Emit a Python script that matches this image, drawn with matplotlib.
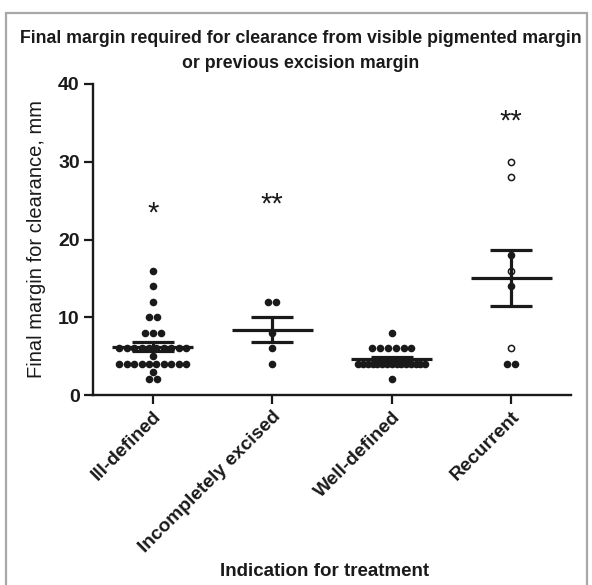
import numpy as np
import matplotlib
matplotlib.use("Agg")
import matplotlib.pyplot as plt
from matplotlib.patches import Rectangle

# ---- data ----
categories = ["Ill-defined", "Incompletely excised", "Well-defined", "Recurrent"]
ill_defined = [16, 14, 12, 10, 10, 8, 8, 8] + [6] * 10 + [5] + [4] * 10 + [3, 2, 2]
incompletely_excised = [12, 12, 8, 6, 4]
well_defined = [8] + [6] * 6 + [4] * 15 + [2]
recurrent = [30, 28, 18, 16, 14, 6, 4, 4]
recurrent_open = [True, True, False, True, False, True, False, False]
series = [ill_defined, incompletely_excised, well_defined, recurrent]
open_flags = [[False] * len(ill_defined), [False] * len(incompletely_excised),
              [False] * len(well_defined), recurrent_open]
star_labels = ["*", "**", "", "**"]
star_y = [23.3, 24.5, 0, 35.2]
y_ticks = [0, 10, 20, 30, 40]

title = "Final margin required for clearance from visible pigmented margin\nor previous excision margin"
ylabel = "Final margin for clearance, mm"
xlabel = "Indication for treatment"

FAM = ["Liberation Sans", "DejaVu Sans"]
plt.rcParams["font.family"] = FAM

fig = plt.figure(figsize=(5.92, 5.85), dpi=100)
W, H = 592, 585
ax = fig.add_axes([93 / W, 1 - 395 / H, (571 - 93) / W, (395 - 84) / H])

# outer gray frame
fig.patches.append(Rectangle((6 / W, -0.05), (587 - 6) / W, (1 - 13 / H) + 0.05,
                             transform=fig.transFigure, fill=False,
                             edgecolor="#a8a8a8", linewidth=1.6))

INK = "#1a1a1a"
dot_dx = 0.066
max_w = 0.56
for i, (vals, opens) in enumerate(zip(series, open_flags)):
    vals = np.asarray(vals, dtype=float)
    opens = np.asarray(opens)
    xs = np.zeros_like(vals)
    for v in np.unique(vals):
        idx = np.where(vals == v)[0]
        n = len(idx)
        sp = dot_dx if n <= 1 else min(dot_dx, max_w / (n - 1))
        xs[idx] = i + (np.arange(n) - (n - 1) / 2) * sp
    filled = ~opens
    ax.scatter(xs[filled], vals[filled], s=30, color=INK, zorder=3, linewidths=0)
    ax.scatter(xs[opens], vals[opens], s=20, facecolor="white", edgecolor=INK,
               linewidths=1.1, zorder=3)
    m = vals.mean()
    sem = vals.std(ddof=1) / np.sqrt(len(vals))
    ax.hlines(m, i - 0.34, i + 0.34, color=INK, lw=2.3, zorder=4)
    ax.hlines([m - sem, m + sem], i - 0.175, i + 0.175, color=INK, lw=2.3, zorder=4)
    ax.vlines(i, m - sem, m + sem, color=INK, lw=2.3, zorder=4)
    if star_labels[i]:
        ax.text(i, star_y[i], star_labels[i], ha="center", va="center",
                fontsize=21, color=INK)

ax.set_xlim(-0.5, 3.5)
ax.set_ylim(0, 40)
ax.set_yticks(y_ticks)
ax.set_xticks(range(len(categories)))
ax.set_xticklabels(categories, rotation=45, ha="right", rotation_mode="anchor",
                   fontsize=13.8, fontweight="bold")
for lab in ax.get_yticklabels():
    lab.set_fontweight("bold")
    lab.set_fontsize(14)
ax.tick_params(axis="both", direction="out", length=6.5, width=1.6, color=INK,
               labelcolor=INK)
ax.tick_params(axis="y", pad=3)
ax.tick_params(axis="x", pad=3)
for s in ["top", "right"]:
    ax.spines[s].set_visible(False)
for s in ["left", "bottom"]:
    ax.spines[s].set_linewidth(1.7)
    ax.spines[s].set_color(INK)

ax.set_ylabel(ylabel, fontsize=14.5, color=INK, labelpad=9)
fig.text(325 / W, 1 - 572 / H, xlabel, ha="center", va="center", fontsize=13.5,
         fontweight="bold", color=INK)
fig.text(301 / W, 1 - 51 / H, title, ha="center", va="center", fontsize=12.8,
         fontweight="bold", color=INK, linespacing=1.65)

fig.savefig("out.png", dpi=100)
